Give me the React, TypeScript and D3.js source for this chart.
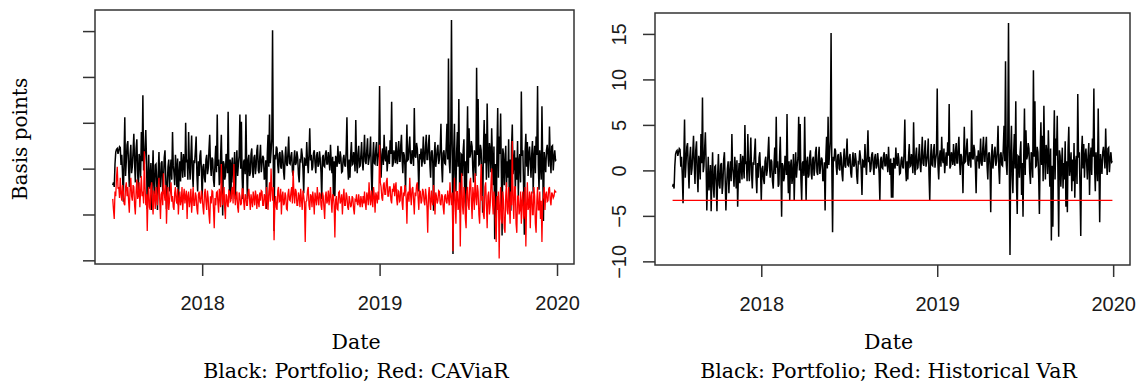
import React, { useEffect, useRef } from "react";
import * as d3 from "d3";

// portfolio P&L in basis points, 20 readings per month (Jul 2017 - Dec 2019)
const portfolio2017 = [
  -1.8, -1.5, -2.0, 0.5, 1.8, 2.1, 2.2, 1.6, 2.0, 2.4, 2.3, 0.4, 1.5, -0.6, -3.6, 1.2, 5.6, -0.8, 0.8, 2.6,
  3.0, 0.2, -2.0, 1.4, 2.6, -0.5, 0.2, 1.9, 3.8, 0.6, -1.5, 2.2, 3.2, -0.3, -2.4, 1.6, 1.0, -1.0, 4.0, 0.8,
  8.0, -0.2, 0.5, 2.4, 4.2, 0.9, -4.4, -1.2, 1.5, -2.2, -1.0, 0.6, -4.5, -0.8, 2.0, -1.8, -3.0, 0.4, 0.5, -1.5,
  -4.5, -0.4, 1.8, -1.6, -2.0, 0.6, 0.8, -2.6, -1.5, 1.2, 2.0, -0.9, -4.4, -1.8, 0.2, 1.0, -2.5, -0.2, 1.0, -1.2,
  4.0, 0.3, -0.5, -1.8, 1.5, 0.2, -2.0, 1.1, -4.0, -0.6, 0.8, -1.4, 1.8, 0.5, -1.0, 1.6, 0.5, -0.9, 5.0, 0.7,
  1.0, -1.2, 4.0, 0.5, -1.2, 1.3, 3.6, -0.4, -2.0, 0.9, 0.6, 2.0, 3.5, -0.7, -2.5, 0.8, -0.8, 1.4, 2.0, -0.3,
];
const portfolio2018 = [
  -3.3, 0.2, 0.5, -1.0, -1.5, 1.0, 1.5, -0.6, 0.0, 2.0, 3.7, 0.4, -0.8, 1.2, 1.0, -1.2, -2.0, 0.6, 2.5, -0.4,
  5.9, 0.3, 1.0, -1.8, -1.5, 1.5, 3.7, -0.2, -5.1, 0.8, 0.5, -1.2, -0.8, 1.6, 1.0, -0.5, 6.2, 0.2, -2.5, 1.0,
  -3.3, 0.4, 1.2, -1.5, -0.5, 1.8, -3.3, 0.2, 2.0, -0.8, 0.5, 1.4, 5.9, 0.0, 5.1, -1.0, -3.3, 0.8, 1.0, -0.6,
  5.9, 0.5, -3.3, 1.0, 1.5, -0.8, -0.5, 1.6, 2.2, -0.3, -1.0, 1.2, 1.5, -0.6, 0.2, 2.0, 2.6, -0.2, -0.5, 1.3,
  2.6, -0.4, 0.5, 1.4, 1.2, -1.2, -0.8, 0.9, -4.4, 1.5, 3.7, 0.2, 5.9, 0.6, 1.8, 3.2, 15.1, 0.4, -6.8, 1.5,
  1.0, 2.4, 2.2, 0.4, -0.5, 1.6, 1.8, 0.2, 0.0, 2.0, 1.4, -0.4, -1.2, 1.2, 2.4, 0.5, 0.3, 1.8, 3.5, 0.6,
  0.5, 1.4, 1.8, -0.3, -0.8, 1.0, 2.0, 0.4, 0.6, 1.9, 1.2, -0.6, -1.5, 0.9, 0.8, 2.2, 1.5, 0.0, -2.7, 1.1,
  1.0, 0.3, 2.9, 0.8, -0.5, 1.6, 4.4, 0.9, 1.5, -0.2, 0.2, 1.7, 2.0, 0.6, -0.5, 1.4, 1.8, 0.2, 0.5, 1.9,
  1.0, -0.4, -3.3, 1.2, 1.5, 0.3, 0.2, 1.6, 2.0, 0.5, 0.5, 1.8, 1.0, -0.2, 2.6, 0.7, -0.5, 1.3, -3.0, 0.8,
  -3.0, 1.4, 1.0, 0.2, 2.5, 0.8, 0.5, 1.9, 1.2, -0.4, -0.3, 1.1, 1.5, 0.4, 0.2, 2.0, 5.6, 0.3, -1.2, 1.0,
  -1.0, 1.5, 2.9, 0.4, 0.5, 1.8, 1.2, -0.3, 5.3, 0.9, -0.5, 1.6, 2.5, 0.2, 0.3, 1.5, 2.9, 0.6, -0.2, 1.7,
  3.7, 0.8, 0.5, 2.0, 3.3, 0.4, 1.0, 1.7, 3.5, -0.5, -3.3, 1.2, 2.9, 0.6, 0.5, 2.2, 2.9, 0.3, 1.2, 1.9,
];
const portfolio2019 = [
  9.0, 0.6, -1.0, 1.5, 2.2, 0.4, 3.7, 1.2, 0.8, 2.4, -0.3, 1.0, 2.0, 0.5, 3.1, 1.6, 7.3, 0.2, 0.5, 2.0,
  1.5, 0.6, 2.9, 1.2, 0.5, 2.2, 3.0, 0.8, 0.8, 2.6, 3.7, 1.0, -0.5, 1.8, 1.5, 0.4, -2.5, 1.6, 4.8, 0.9,
  1.0, 2.4, 3.5, 0.7, 0.5, 2.0, 1.8, 0.3, 6.6, 1.4, 1.2, 2.8, 2.2, 0.5, -2.5, 1.6, 1.0, 2.2, 0.2, 1.2,
  3.5, 0.8, 0.5, 2.4, 3.7, 1.0, 1.0, 2.6, 3.7, 0.4, -1.0, 1.8, 2.0, 0.6, -4.6, 1.4, 2.9, 0.2, 1.0, 2.1,
  2.6, 0.5, 1.0, 2.2, 4.9, 0.3, -1.5, 1.7, 2.0, 0.6, 0.5, 2.4, 4.9, 1.0, 12.0, 0.8, -0.5, 3.0, 16.2, 1.5,
  -9.3, 2.0, 4.9, -0.6, -2.5, 1.8, 4.0, 0.2, 7.6, -1.5, -4.8, 1.6, 1.5, -0.8, 2.0, 3.2, -2.7, 0.8, -5.1, 1.5,
  6.8, -0.5, 4.4, 1.2, 1.6, 3.0, 2.4, -0.2, -1.5, 2.0, 1.2, -0.8, 11.0, 1.5, 7.6, 0.4, 0.5, 2.6, 2.0, -0.6,
  -4.8, 1.8, 5.3, 0.6, 3.8, -1.2, 7.1, 1.5, -1.0, 2.8, 2.0, -0.4, 4.4, 1.0, -1.8, 2.4, -7.7, 0.5, -6.2, 2.0,
  6.6, -1.0, 3.5, 1.6, 6.0, -0.5, -7.3, 2.2, 1.6, -1.8, 0.5, 2.5, -2.0, 0.8, -1.0, 3.2, -4.0, 1.0, -4.6, 2.4,
  4.8, -0.6, 0.5, 2.0, -2.3, 1.2, -1.2, 3.0, -3.0, 0.8, 1.6, -1.5, 8.4, 1.4, 2.0, -2.0, -7.2, 1.8, 3.8, 0.2,
  2.9, -0.8, 1.5, 2.4, 0.8, -1.0, 1.6, 3.0, -2.7, 1.2, 2.5, -0.5, 3.5, 1.5, 9.0, 0.4, -2.3, 2.0, 0.5, -1.2,
  6.8, 0.6, -5.7, 1.8, 0.8, -0.4, 2.0, 2.6, 1.5, 0.2, 4.6, 1.2, -0.5, 2.4, 2.5, -0.2, 1.2, 2.0, 0.9, 1.0,
];

// CAViaR estimate, same dates
const caviar2017 = [
  -3.3, -4.5, -5.5, -2.5, -3.0, -1.0, 0.2, -2.2, -2.0, -3.2, -1.0, -2.8, -3.5, -1.8, -2.5, -3.8, -4.0, -2.0, -1.5, -3.0,
  -2.0, -3.5, -4.8, -2.2, -1.0, -3.0, -3.5, -1.8, -2.0, -4.0, -5.0, -2.5, -1.2, -3.3, -3.0, -1.5, -4.2, -2.4, -0.8, -3.0,
  -2.5, -3.8, 1.9, -2.0, -4.0, -2.8, -6.8, -3.0, -2.0, -4.2, -4.5, -2.2, -1.5, -3.6, -5.0, -2.4, -3.0, -4.4, -2.0, -3.2,
  -4.0, -2.2, -1.0, -3.4, -5.5, -2.8, -2.5, -4.0, -0.5, -2.6, -3.5, -1.8, -6.0, -3.2, -2.0, -4.5, -3.5, -2.4, -1.5, -3.6,
  -3.0, -4.2, -4.5, -2.6, -2.0, -3.5, -3.8, -2.2, -5.0, -3.4, -2.5, -4.0, -3.5, -2.0, -4.5, -3.0, -2.2, -3.8, -3.0, -2.4,
  -5.5, -3.0, -2.5, -4.2, -3.5, -2.2, -4.8, -3.4, -2.0, -4.0, -4.0, -2.6, -3.0, -4.4, -5.0, -2.8, -2.5, -3.6, -3.8, -2.4,
];
const caviar2018 = [
  -3.0, -4.2, -5.0, -2.8, -2.2, -3.6, -4.5, -2.4, -3.2, -5.0, -6.0, -3.0, -3.8, -2.4, -2.5, -4.4, -6.5, -3.2, -4.0, -2.6,
  -2.5, -3.8, -4.8, -2.2, -3.0, -4.2, 0.5, -2.6, -4.0, -3.0, -2.0, -4.4, -5.5, -2.8, -3.0, -4.0, -4.2, -2.4, -2.5, -3.6,
  -3.5, -2.4, -2.0, -3.8, 0.5, -2.8, -4.0, -3.0, -2.5, -4.2, -4.8, -2.6, -3.0, -4.0, -3.8, -2.2, -2.2, -3.6, -4.5, -2.8,
  -3.0, -4.0, -4.0, -2.6, -2.2, -3.4, -4.5, -2.8, -3.5, -4.2, -2.5, -3.2, -4.0, -2.4, -3.0, -4.4, -2.8, -3.6, -4.2, -2.6,
  -3.5, -2.4, -2.5, -4.0, -4.0, -2.8, -3.0, -4.4, -2.0, -3.2, -4.5, -2.6, -1.5, -3.6, 0.0, -2.2, -3.5, -2.0, -7.8, -4.0,
  -3.0, -4.2, -4.5, -2.4, -2.0, -3.6, -3.5, -2.2, -5.0, -3.0, -2.5, -4.0, -3.8, -2.6, -3.0, -4.4, -4.5, -2.8, -2.2, -3.4,
  -3.5, -2.6, -2.0, -3.8, -0.2, -2.8, -3.8, -2.2, -2.5, -4.0, -4.0, -2.6, -3.0, -4.2, -2.2, -3.4, -4.5, -2.4, -3.0, -3.8,
  -8.0, -3.6, -3.5, -2.4, -2.0, -4.0, -4.5, -2.8, -3.0, -4.2, -2.5, -3.4, -5.0, -2.6, -3.2, -4.0, -2.0, -3.2, -4.0, -2.6,
  -2.8, -4.0, -4.5, -2.6, -3.0, -4.2, -5.5, -3.0, -2.5, -3.8, -3.5, -2.4, -4.0, -3.0, -2.0, -3.6, -4.8, -2.8, -3.0, -4.0,
  -7.5, -3.4, -3.0, -4.4, -4.5, -2.6, -2.5, -3.8, -3.5, -2.8, -5.0, -3.2, -2.2, -4.0, -4.0, -2.6, -3.0, -4.2, -4.5, -3.0,
  -3.5, -4.2, -4.0, -3.0, -3.2, -4.4, -5.0, -3.4, -3.5, -2.8, -3.8, -4.0, -2.8, -3.6, -4.2, -3.0, -3.5, -4.2, -3.0, -3.8,
  -2.5, -3.8, -4.5, -2.6, -3.0, -4.0, -1.5, -3.2, -4.0, -2.4, -3.5, -4.2, -2.0, -3.0, -4.8, -2.6, -3.0, -3.8, -2.5, -3.4,
];
const caviar2019 = [
  2.6, -1.5, -2.0, -3.2, -3.5, -1.8, -1.5, -2.8, -2.8, -1.4, -1.0, -3.0, -3.0, -2.0, -2.0, -3.4, -3.8, -2.2, -2.5, -1.6,
  -3.0, -2.0, -1.5, -3.4, -4.0, -2.4, -2.5, -3.6, -3.5, -2.0, -2.0, -3.8, -4.5, -2.6, -3.0, -1.8, -2.2, -3.4, -6.0, -2.8,
  -2.5, -3.6, -1.0, -2.8, -4.0, -2.2, -2.0, -3.4, -5.0, -2.6, -3.0, -1.8, -1.5, -3.2, -4.5, -2.4, -2.5, -3.8, -3.5, -2.2,
  -2.5, -3.6, -4.0, -2.2, -3.0, -4.2, -7.0, -3.0, -2.0, -3.6, -4.5, -2.4, -3.5, -4.0, -1.8, -3.0, -5.0, -2.6, -3.0, -3.8,
  -3.5, -2.4, -2.5, -3.8, -4.0, -2.8, -3.0, -4.2, -5.0, -3.0, -2.8, -3.6, -3.8, -2.4, -3.2, -4.0, -1.5, -3.0, -4.0, -2.6,
  -9.0, -4.0, -1.0, -3.5, -6.0, -2.5, -2.5, -4.5, -4.0, -1.5, -8.5, -3.0, -0.5, -4.0, -5.0, -2.0, -3.0, -5.5, -6.5, -2.5,
  -2.0, -4.0, -4.5, -1.5, -1.0, -3.5, -5.5, -2.0, -3.0, -4.5, -0.5, -3.0, -4.0, -1.8, -2.5, -5.0, -6.0, -2.5, 0.5, -3.5,
  -3.0, -5.0, -5.5, -2.0, -1.5, -4.0, -6.5, -3.0, -2.5, -5.0, -4.0, -1.8, 0.0, -3.5, -5.0, -2.5, -3.5, -6.0, -8.0, -3.0,
  -4.5, -2.5, -9.8, -4.0, -2.0, -5.5, -6.0, -2.5, -3.5, -6.5, -7.0, -3.0, -1.5, -4.5, -5.0, -2.0, -4.0, -6.0, -2.5, -4.0,
  3.0, -3.5, -5.5, -2.0, -2.0, -6.0, -7.0, -3.0, -3.0, -5.0, -4.5, -2.5, -6.0, -3.5, -2.5, -5.5, -5.0, -2.0, -8.5, -4.0,
  -1.5, -4.5, -4.0, -2.5, -6.5, -3.0, -2.5, -5.0, -5.0, -2.0, -3.0, -6.0, -7.0, -3.5, -2.0, -4.5, -4.5, -2.5, -5.5, -3.5,
  -8.0, -3.5, -3.0, -2.0, -4.5, -2.8, -2.5, -3.6, -3.5, -2.2, -2.0, -3.4, -4.0, -2.6, -2.8, -3.2, -3.0, -2.4, -2.5, -2.6,
];

const historicalVaR = -3.3;
const yTicks = [-10, -5, 0, 5, 10, 15];
const yearTicks = [2018, 2019, 2020];
const PER_MONTH = 20;

// readings spread evenly over each month, starting at firstMonth of year
const toSeries = (year, firstMonth, values) =>
  values.map((v, i) => {
    const m = firstMonth + Math.floor(i / PER_MONTH);
    const k = i % PER_MONTH;
    const days = new Date(year, m + 1, 0).getDate();
    const t = +new Date(year, m, 1) + ((k * days) / PER_MONTH) * 864e5;
    return { date: new Date(t), value: v };
  });

const portfolio = [
  ...toSeries(2017, 6, portfolio2017),
  ...toSeries(2018, 0, portfolio2018),
  ...toSeries(2019, 0, portfolio2019),
];
const caviar = [
  ...toSeries(2017, 6, caviar2017),
  ...toSeries(2018, 0, caviar2018),
  ...toSeries(2019, 0, caviar2019),
];

const SANS = "'Liberation Sans', Arial, sans-serif";
const SERIF = "'DejaVu Serif', serif";

const drawPanel = (svg, box, opts) => {
  const ext = d3.extent(portfolio, d => d.date);
  const pad = (+ext[1] - +ext[0]) * 0.04;
  const x = d3
    .scaleTime()
    .domain([new Date(+ext[0] - pad), new Date(+ext[1] + pad)])
    .range([box.left, box.right]);
  const y = d3
    .scaleLinear()
    .domain([-10.4, 17.3])
    .range([box.bottom, box.top]);

  const line = d3
    .line()
    .x(d => x(d.date))
    .y(d => y(d.value));

  const g = svg.append("g");

  g.append("path")
    .datum(portfolio)
    .attr("fill", "none")
    .attr("stroke", "#000")
    .attr("stroke-width", 1.5)
    .attr("d", line);

  if (opts.redSeries) {
    g.append("path")
      .datum(opts.redSeries)
      .attr("fill", "none")
      .attr("stroke", "#ff0000")
      .attr("stroke-width", 1.3)
      .attr("d", line);
  }

  // box
  g.append("rect")
    .attr("x", box.left)
    .attr("y", box.top)
    .attr("width", box.right - box.left)
    .attr("height", box.bottom - box.top)
    .attr("fill", "none")
    .attr("stroke", "#333")
    .attr("stroke-width", 1.5);

  const yAxis = g
    .append("g")
    .attr("transform", "translate(" + box.left + ",0)")
    .call(
      d3
        .axisLeft(y)
        .tickValues(yTicks)
        .tickSize(12)
        .tickSizeOuter(0)
        .tickFormat(opts.yLabels ? d3.format("d") : () => "")
    );
  yAxis.select(".domain").remove();
  yAxis.selectAll("line").attr("stroke", "#333").attr("stroke-width", 1.5);
  yAxis
    .selectAll("text")
    .attr("x", null)
    .attr("dy", null)
    .attr("text-anchor", "middle")
    .attr("transform", "translate(-29,0) rotate(-90)")
    .attr("fill", "#1a1a1a")
    .attr("font-size", 20)
    .attr("font-family", SANS);

  const xAxis = g
    .append("g")
    .attr("transform", "translate(0," + box.bottom + ")")
    .call(
      d3
        .axisBottom(x)
        .tickValues(yearTicks.map(yr => new Date(yr, 0, 1)))
        .tickSize(12)
        .tickSizeOuter(0)
        .tickFormat(d3.timeFormat("%Y"))
    );
  xAxis.select(".domain").remove();
  xAxis.selectAll("line").attr("stroke", "#333").attr("stroke-width", 1.5);
  xAxis
    .selectAll("text")
    .attr("y", 46)
    .attr("dy", null)
    .attr("fill", "#1a1a1a")
    .attr("font-size", 20)
    .attr("font-family", SANS);

  g.append("text")
    .attr("x", opts.captionX)
    .attr("y", 349)
    .attr("text-anchor", "middle")
    .attr("font-family", SERIF)
    .attr("font-size", 20.5)
    .attr("fill", "#000")
    .text("Date");

  g.append("text")
    .attr("x", opts.captionX)
    .attr("y", 377.5)
    .attr("text-anchor", "middle")
    .attr("font-family", SERIF)
    .attr("font-size", 20.5)
    .attr("fill", "#000")
    .text(opts.caption);
};

export default function App() {
  const ref = useRef(null);

  useEffect(() => {
    const svg = d3.select(ref.current);
    svg.selectAll("*").remove();

    drawPanel(
      svg,
      { left: 95, right: 574, top: 10, bottom: 264 },
      {
        redSeries: caviar,
        yLabels: false,
        captionX: 356,
        caption: "Black: Portfolio; Red: CAViaR",
      }
    );

    svg
      .append("text")
      .attr("transform", "translate(27,139) rotate(-90)")
      .attr("text-anchor", "middle")
      .attr("font-family", SERIF)
      .attr("font-size", 20)
      .attr("fill", "#000")
      .text("Basis points");

    drawPanel(
      svg,
      { left: 655, right: 1130, top: 13, bottom: 265 },
      {
        redSeries: portfolio.map(d => ({ date: d.date, value: historicalVaR })),
        yLabels: true,
        captionX: 888.5,
        caption: "Black: Portfolio; Red: Historical VaR",
      }
    );
  }, []);

  return (
    <div style={{ position: "absolute", left: 0, top: 0, background: "#fff" }}>
      <svg ref={ref} width={1140} height={383} style={{ display: "block" }} />
    </div>
  );
}
